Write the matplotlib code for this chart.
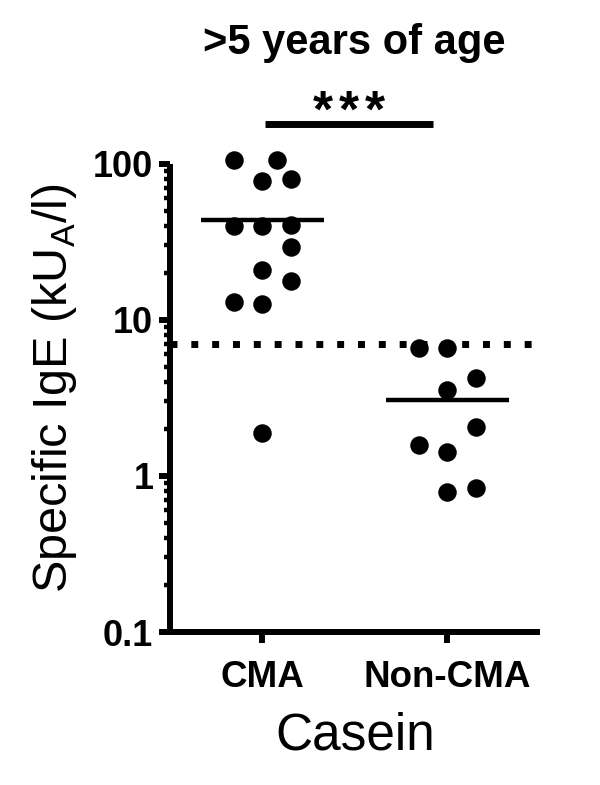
import matplotlib
matplotlib.use("Agg")
import matplotlib.pyplot as plt
import matplotlib.transforms as mtransforms
from matplotlib.ticker import FixedLocator, LogLocator, NullFormatter

plt.rcParams['font.family'] = ['Liberation Sans', 'DejaVu Sans']
plt.rcParams['mathtext.fontset'] = 'custom'
plt.rcParams['mathtext.rm'] = 'Liberation Sans'

# ---- data ----
categories = ["CMA", "Non-CMA"]
cma_values = [105, 105, 77, 80, 39.7, 39.7, 40.5, 29.1, 20.9, 17.8, 12.9, 12.6, 1.88]
cma_cols = [-1, 0.5, 0, 1, -1, 0, 1, 1, 0, 1, -1, 0, 0]
non_values = [6.63, 6.63, 4.25, 3.54, 2.06, 1.58, 1.43, 0.79, 0.83]
non_cols = [-1, 0, 1, 0, 1, -1, 0, 0, 1]
group_means = [43.5, 3.05]
cutoff = 7.0
ytick_values = [0.1, 1, 10, 100]
ytick_labels = ["0.1", "1", "10", "100"]
title = ">5 years of age"
xlabel = "Casein"
ylabel = "Specific IgE (kU$_\\mathregular{A}$/l)"
sig_stars = 3

fig = plt.figure(figsize=(6, 7.85), dpi=100)
ax = fig.add_axes([0.2833, 0.1949, 0.6167, 0.5968])

spread = 0.154
ax.plot([0 + c * spread for c in cma_cols], cma_values, 'o', color='black',
        ms=12.3, mec='black', clip_on=False, zorder=3)
ax.plot([1 + c * spread for c in non_cols], non_values, 'o', color='black',
        ms=12.3, mec='black', clip_on=False, zorder=3)

for i, m in enumerate(group_means):
    ax.plot([i - 0.333, i + 0.333], [m, m], color='black', lw=3.2, solid_capstyle='butt', zorder=4)

ax.axhline(cutoff, color='black', lw=5, linestyle=(0, (1, 2)), dash_capstyle='butt', zorder=2)

ax.set_yscale('log')
ax.set_ylim(0.1, 100)
ax.set_xlim(-0.5, 1.5)

ax.yaxis.set_major_locator(FixedLocator(ytick_values))
ax.set_yticklabels(ytick_labels)
ax.yaxis.set_minor_locator(LogLocator(base=10, subs=range(2, 10)))
ax.yaxis.set_minor_formatter(NullFormatter())
ax.set_xticks(range(len(categories)))
ax.set_xticklabels(categories)

for s in ['top', 'right']:
    ax.spines[s].set_visible(False)
for s in ['left', 'bottom']:
    ax.spines[s].set_linewidth(4.3)
    ax.spines[s].set_capstyle('butt')

ax.tick_params(axis='both', which='major', length=8, width=4.3, color='black')
ax.tick_params(axis='y', which='minor', length=4, width=3.2, color='black')
ax.tick_params(axis='y', which='major', labelsize=26, pad=4)
ax.tick_params(axis='x', which='major', labelsize=26.5, pad=12)
for lbl in ax.get_xticklabels() + ax.get_yticklabels():
    lbl.set_fontweight('bold')

ax.set_xlabel(xlabel, fontsize=37, labelpad=12)
ax.set_ylabel(ylabel, fontsize=35)
ax.yaxis.set_label_coords(-0.247, 0.521)

# significance bar
ax.plot([0.016, 0.924], [178, 178], color='black', lw=5, solid_capstyle='butt', clip_on=False)
star_trans = mtransforms.blended_transform_factory(ax.transData, fig.transFigure)
star_gap = 0.14
for k in range(sig_stars):
    ax.text(0.465 + (k - (sig_stars - 1) / 2) * star_gap, 1 - 127 / 785, "*",
            ha='center', va='baseline', fontsize=37, fontweight='bold', transform=star_trans)

fig.text(354 / 600, 1 - 54 / 785, title, ha='center', va='baseline', fontsize=30, fontweight='bold')

fig.savefig("out.png", dpi=100)
